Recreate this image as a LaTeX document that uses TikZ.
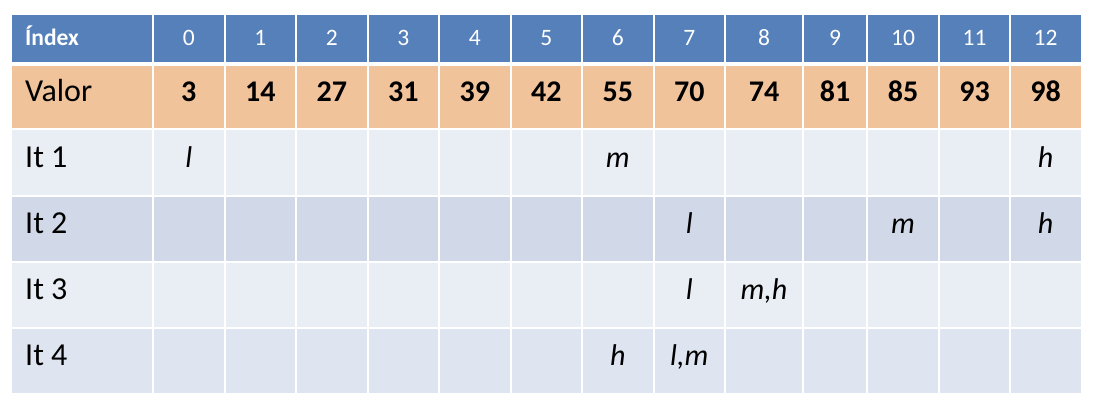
\documentclass[tikz,border=0pt]{standalone}
\usepackage{fontspec}
\setmainfont{Carlito}
\definecolor{hdr}{HTML}{5580BA}
\definecolor{val}{HTML}{F1C39B}
\definecolor{rowA}{HTML}{E9EDF4}
\definecolor{rowB}{HTML}{D1D9E8}
\definecolor{rowC}{HTML}{DEE5F0}
\begin{document}
\begin{tikzpicture}[x=1pt,y=-1pt,
  hdrtxt/.style={anchor=base,text=white,font=\fontsize{23.5}{25}\selectfont,inner sep=0pt},
  bodytxt/.style={anchor=base,text=black,font=\fontsize{32}{34}\selectfont,inner sep=0pt},
  valtxt/.style={bodytxt,font=\fontsize{30}{32}\selectfont\bfseries},
  marktxt/.style={bodytxt,font=\fontsize{30}{32}\selectfont\itshape},
  lbl/.style={anchor=base west,inner sep=0pt}]
\useasboundingbox (0,0) rectangle (1100,410);
% cell backgrounds
\foreach \xa/\xb in {12/152,154/223.5,225.5/295,297/366.5,368.5/438,440/509.5,511.5/581,583/652.5,654.5/724,726/802,804/866,868/938,940/1009,1011/1081}{
  \fill[hdr] (\xa,15) rectangle (\xb,61.5);
  \fill[val] (\xa,65.5) rectangle (\xb,128);
  \fill[rowA] (\xa,130) rectangle (\xb,194.5);
  \fill[rowB] (\xa,196.5) rectangle (\xb,260.5);
  \fill[rowA] (\xa,262.5) rectangle (\xb,326.5);
  \fill[rowC] (\xa,328.5) rectangle (\xb,393);
}
% first column labels
\node[hdrtxt,lbl,font=\fontsize{23.5}{25}\selectfont\bfseries] (hIndex) at (25,45) {Índex};
\node[bodytxt,lbl] (lValor) at (25,101) {Valor};
\node[bodytxt,lbl] (lIt1) at (25,167) {It 1};
\node[bodytxt,lbl] (lIt2) at (25,233) {It 2};
\node[bodytxt,lbl] (lIt3) at (25,299) {It 3};
\node[bodytxt,lbl] (lIt4) at (25,365) {It 4};
% header indices and values
\foreach \k/\v/\xc in {0/3/188.75,1/14/260.25,2/27/331.75,3/31/403.25,4/39/474.75,5/42/546.25,6/55/617.75,7/70/689.25,8/74/764,9/81/835,10/85/903,11/93/974.5,12/98/1045.5}{
  \node[hdrtxt] (h\k) at (\xc,45) {\k};
  \node[valtxt] (v\k) at (\xc,101) {\v};
}
% pointer marks
\node[marktxt] (a1l) at (188.75,167) {l};
\node[marktxt] (a1m) at (617.75,167) {m};
\node[marktxt] (a1h) at (1045.5,167) {h};
\node[marktxt] (a2l) at (689.25,233) {l};
\node[marktxt] (a2m) at (903,233) {m};
\node[marktxt] (a2h) at (1045.5,233) {h};
\node[marktxt] (a3l) at (689.25,299) {l};
\node[marktxt] (a3mh) at (764,299) {m,h};
\node[marktxt] (a4h) at (617.75,365) {h};
\node[marktxt] (a4lm) at (689.25,365) {l,m};
\end{tikzpicture}
\end{document}
